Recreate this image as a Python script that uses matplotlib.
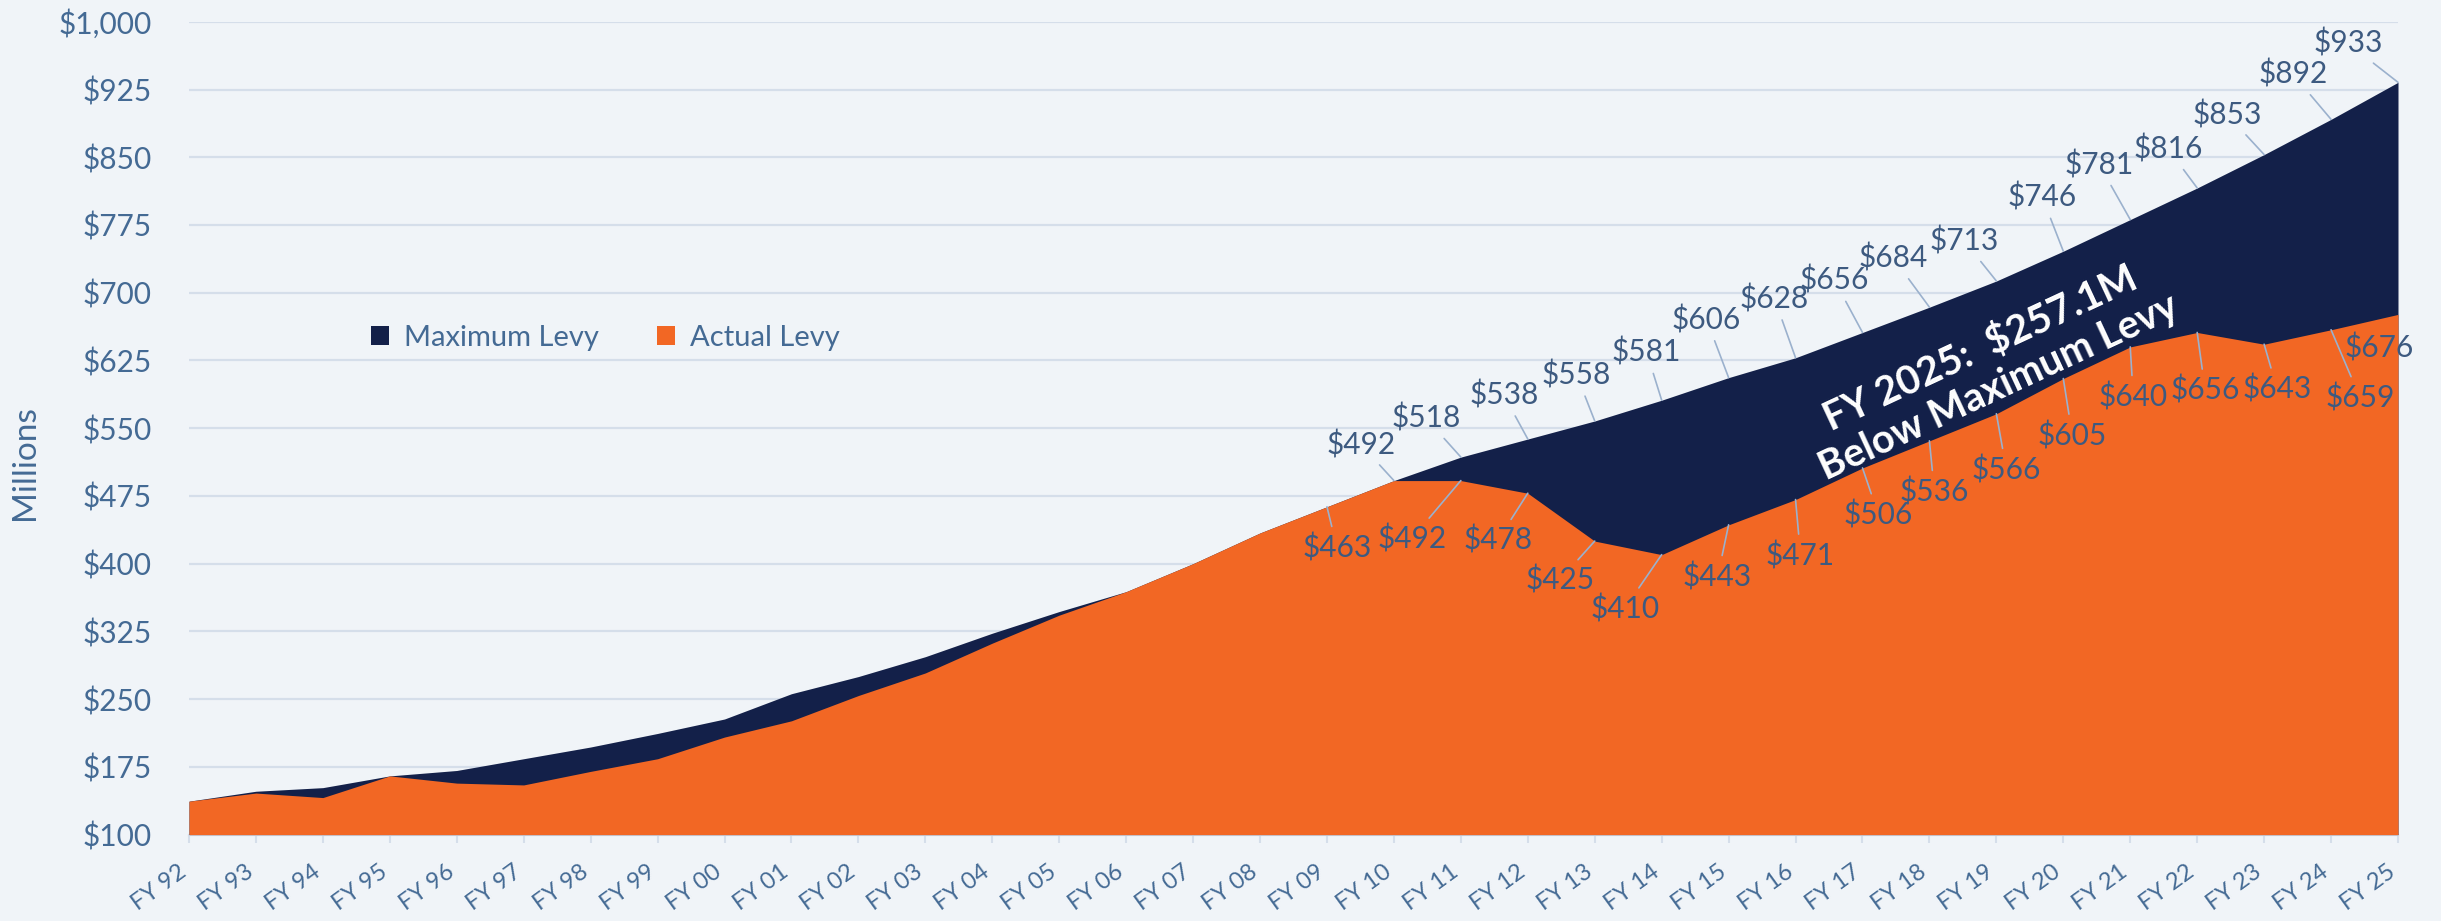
import numpy as np
import matplotlib
matplotlib.use("Agg")
import matplotlib.pyplot as plt
import matplotlib.transforms as mtransforms
from matplotlib.patches import Patch

plt.rcParams['font.family'] = ['Lato', 'DejaVu Sans']

# ---------------- data ----------------
years = ["FY 92", "FY 93", "FY 94", "FY 95", "FY 96", "FY 97", "FY 98", "FY 99",
         "FY 00", "FY 01", "FY 02", "FY 03", "FY 04", "FY 05", "FY 06", "FY 07",
         "FY 08", "FY 09", "FY 10", "FY 11", "FY 12", "FY 13", "FY 14", "FY 15",
         "FY 16", "FY 17", "FY 18", "FY 19", "FY 20", "FY 21", "FY 22", "FY 23",
         "FY 24", "FY 25"]
max_levy = [137, 148, 152, 165, 171, 184, 197, 212, 228, 256, 275, 297, 323, 347,
            369, 400, 434, 463, 492, 518, 538, 558, 581, 606, 628, 656, 684, 713,
            746, 781, 816, 853, 892, 933]
actual_levy = [137, 146, 141, 165, 157, 155, 170, 184, 208, 226, 254, 279, 312, 343,
               369, 400, 434, 463, 492, 492, 478, 425, 410, 443, 471, 506, 536, 566,
               605, 640, 656, 643, 659, 676]
y_ticks = list(range(100, 1001, 75))
annotation = "FY 2025:  $257.1M\nBelow Maximum Levy"

# which points carry data labels
max_label_years = ["FY 10", "FY 11", "FY 12", "FY 13", "FY 14", "FY 15", "FY 16", "FY 17",
                   "FY 18", "FY 19", "FY 20", "FY 21", "FY 22", "FY 23", "FY 24", "FY 25"]
act_label_years = ["FY 09", "FY 11", "FY 12", "FY 13", "FY 14", "FY 15", "FY 16", "FY 17",
                   "FY 18", "FY 19", "FY 20", "FY 21", "FY 22", "FY 23", "FY 24", "FY 25"]

# ---------------- layout / style ----------------
# label offsets in pixels (dx right, dy down)
max_offsets = [(-33, -36), (-35, -39), (-24, -44), (-18, -46), (-15, -48), (-22, -58),
               (-21, -59), (-28, -52), (-36, -49), (-32, -40), (-21, -54), (-31, -55),
               (-29, -39), (-37, -40), (-38, -45), (-50, -39)]
act_offsets = [(10, 41), (-49, 58), (-30, 47), (-35, 39), (-37, 54), (-11, 52),
               (5, 56), (16, 47), (5, 51), (10, 56), (9, 57), (3, 50), (8, 58),
               (13, 45), (29, 68), (-19, 34)]
act_leader = [True] * 15 + [False]

W, H, DPI = 2441, 921, 100
bg = "#F0F4F8"
navy = "#132049"
orange = "#F26724"
grid_c = "#D5DEEA"
tick_c = "#446A94"
lab_c = "#3D5A80"
lead_c = "#9BB1CD"

fig = plt.figure(figsize=(W / DPI, H / DPI), dpi=DPI, facecolor=bg)
L, R, T, B = 189, 2398, 21.8, 834.6
ax = fig.add_axes([L / W, 1 - B / H, (R - L) / W, (B - T) / H])
ax.set_facecolor(bg)

x = np.arange(len(years))
ax.fill_between(x, 100, max_levy, color=navy, lw=0, zorder=2)
ax.fill_between(x, 100, actual_levy, color=orange, lw=0, zorder=3)

ax.set_xlim(0, len(years) - 1)
ax.set_ylim(100, 1000)
ax.set_yticks(y_ticks)
ax.set_yticklabels([f"${v:,}" for v in y_ticks], fontsize=21.5, color=tick_c)
ax.tick_params(axis='y', length=0, pad=27)
ax.yaxis.grid(True, color=grid_c, lw=1.6, zorder=0)
ax.set_axisbelow(True)

for s in ["top", "right", "left"]:
    ax.spines[s].set_visible(False)
ax.spines["bottom"].set_color(grid_c)
ax.spines["bottom"].set_linewidth(1.6)
ax.spines["bottom"].set_zorder(1)

ax.set_xticks(x)
ax.set_xticklabels(years, fontsize=17, color=tick_c)
ax.tick_params(axis='x', length=6, width=1.5, color=grid_c, pad=19)
offset = mtransforms.ScaledTranslation(-5 / DPI, 0, fig.dpi_scale_trans)
for lab in ax.get_xticklabels():
    lab.set_rotation(36)
    lab.set_ha('right')
    lab.set_va('center')
    lab.set_rotation_mode('anchor')
    lab.set_transform(lab.get_transform() + offset)

ax.set_ylabel("Millions", fontsize=24, color=tick_c, labelpad=0, va='center')
ax.yaxis.set_label_coords(25 / W, 1 - 463 / H, transform=fig.transFigure)

px2pt = 72 / DPI
for yr, (dx, dy) in zip(max_label_years, max_offsets):
    i = years.index(yr)
    v = max_levy[i]
    ax.annotate(f"${v}", xy=(i, v), xytext=(dx * px2pt, -dy * px2pt),
                textcoords='offset points', ha='center', va='center',
                fontsize=21.5, color=lab_c, zorder=6, annotation_clip=False,
                arrowprops=dict(arrowstyle='-', color=lead_c, lw=1.2,
                                shrinkA=3, shrinkB=0))
for (yr, (dx, dy), lead) in zip(act_label_years, act_offsets, act_leader):
    i = years.index(yr)
    v = actual_levy[i]
    ap = dict(arrowstyle='-', color=lead_c, lw=1.2, shrinkA=3, shrinkB=0) if lead else None
    ax.annotate(f"${v}", xy=(i, v), xytext=(dx * px2pt, -dy * px2pt),
                textcoords='offset points', ha='center', va='center',
                fontsize=21.5, color=lab_c, zorder=6, annotation_clip=False,
                arrowprops=ap)

ax.text(26.9, 617, annotation, rotation=25, rotation_mode='anchor',
        ha='center', va='center', fontsize=28.5, fontweight='bold', color='white',
        linespacing=1.2, zorder=7, multialignment='center')

handles = [Patch(facecolor=navy, edgecolor='none', label="Maximum Levy"),
           Patch(facecolor=orange, edgecolor='none', label="Actual Levy")]
leg = fig.legend(handles=handles, loc='center left',
                 bbox_to_anchor=(371 / W, 1 - 338 / H), ncol=2, frameon=False,
                 fontsize=21, handlelength=0.62, handleheight=0.62,
                 handletextpad=0.5, columnspacing=2.0, borderpad=0,
                 borderaxespad=0)
for t in leg.get_texts():
    t.set_color(tick_c)

fig.savefig("out.png", dpi=DPI, facecolor=bg)
